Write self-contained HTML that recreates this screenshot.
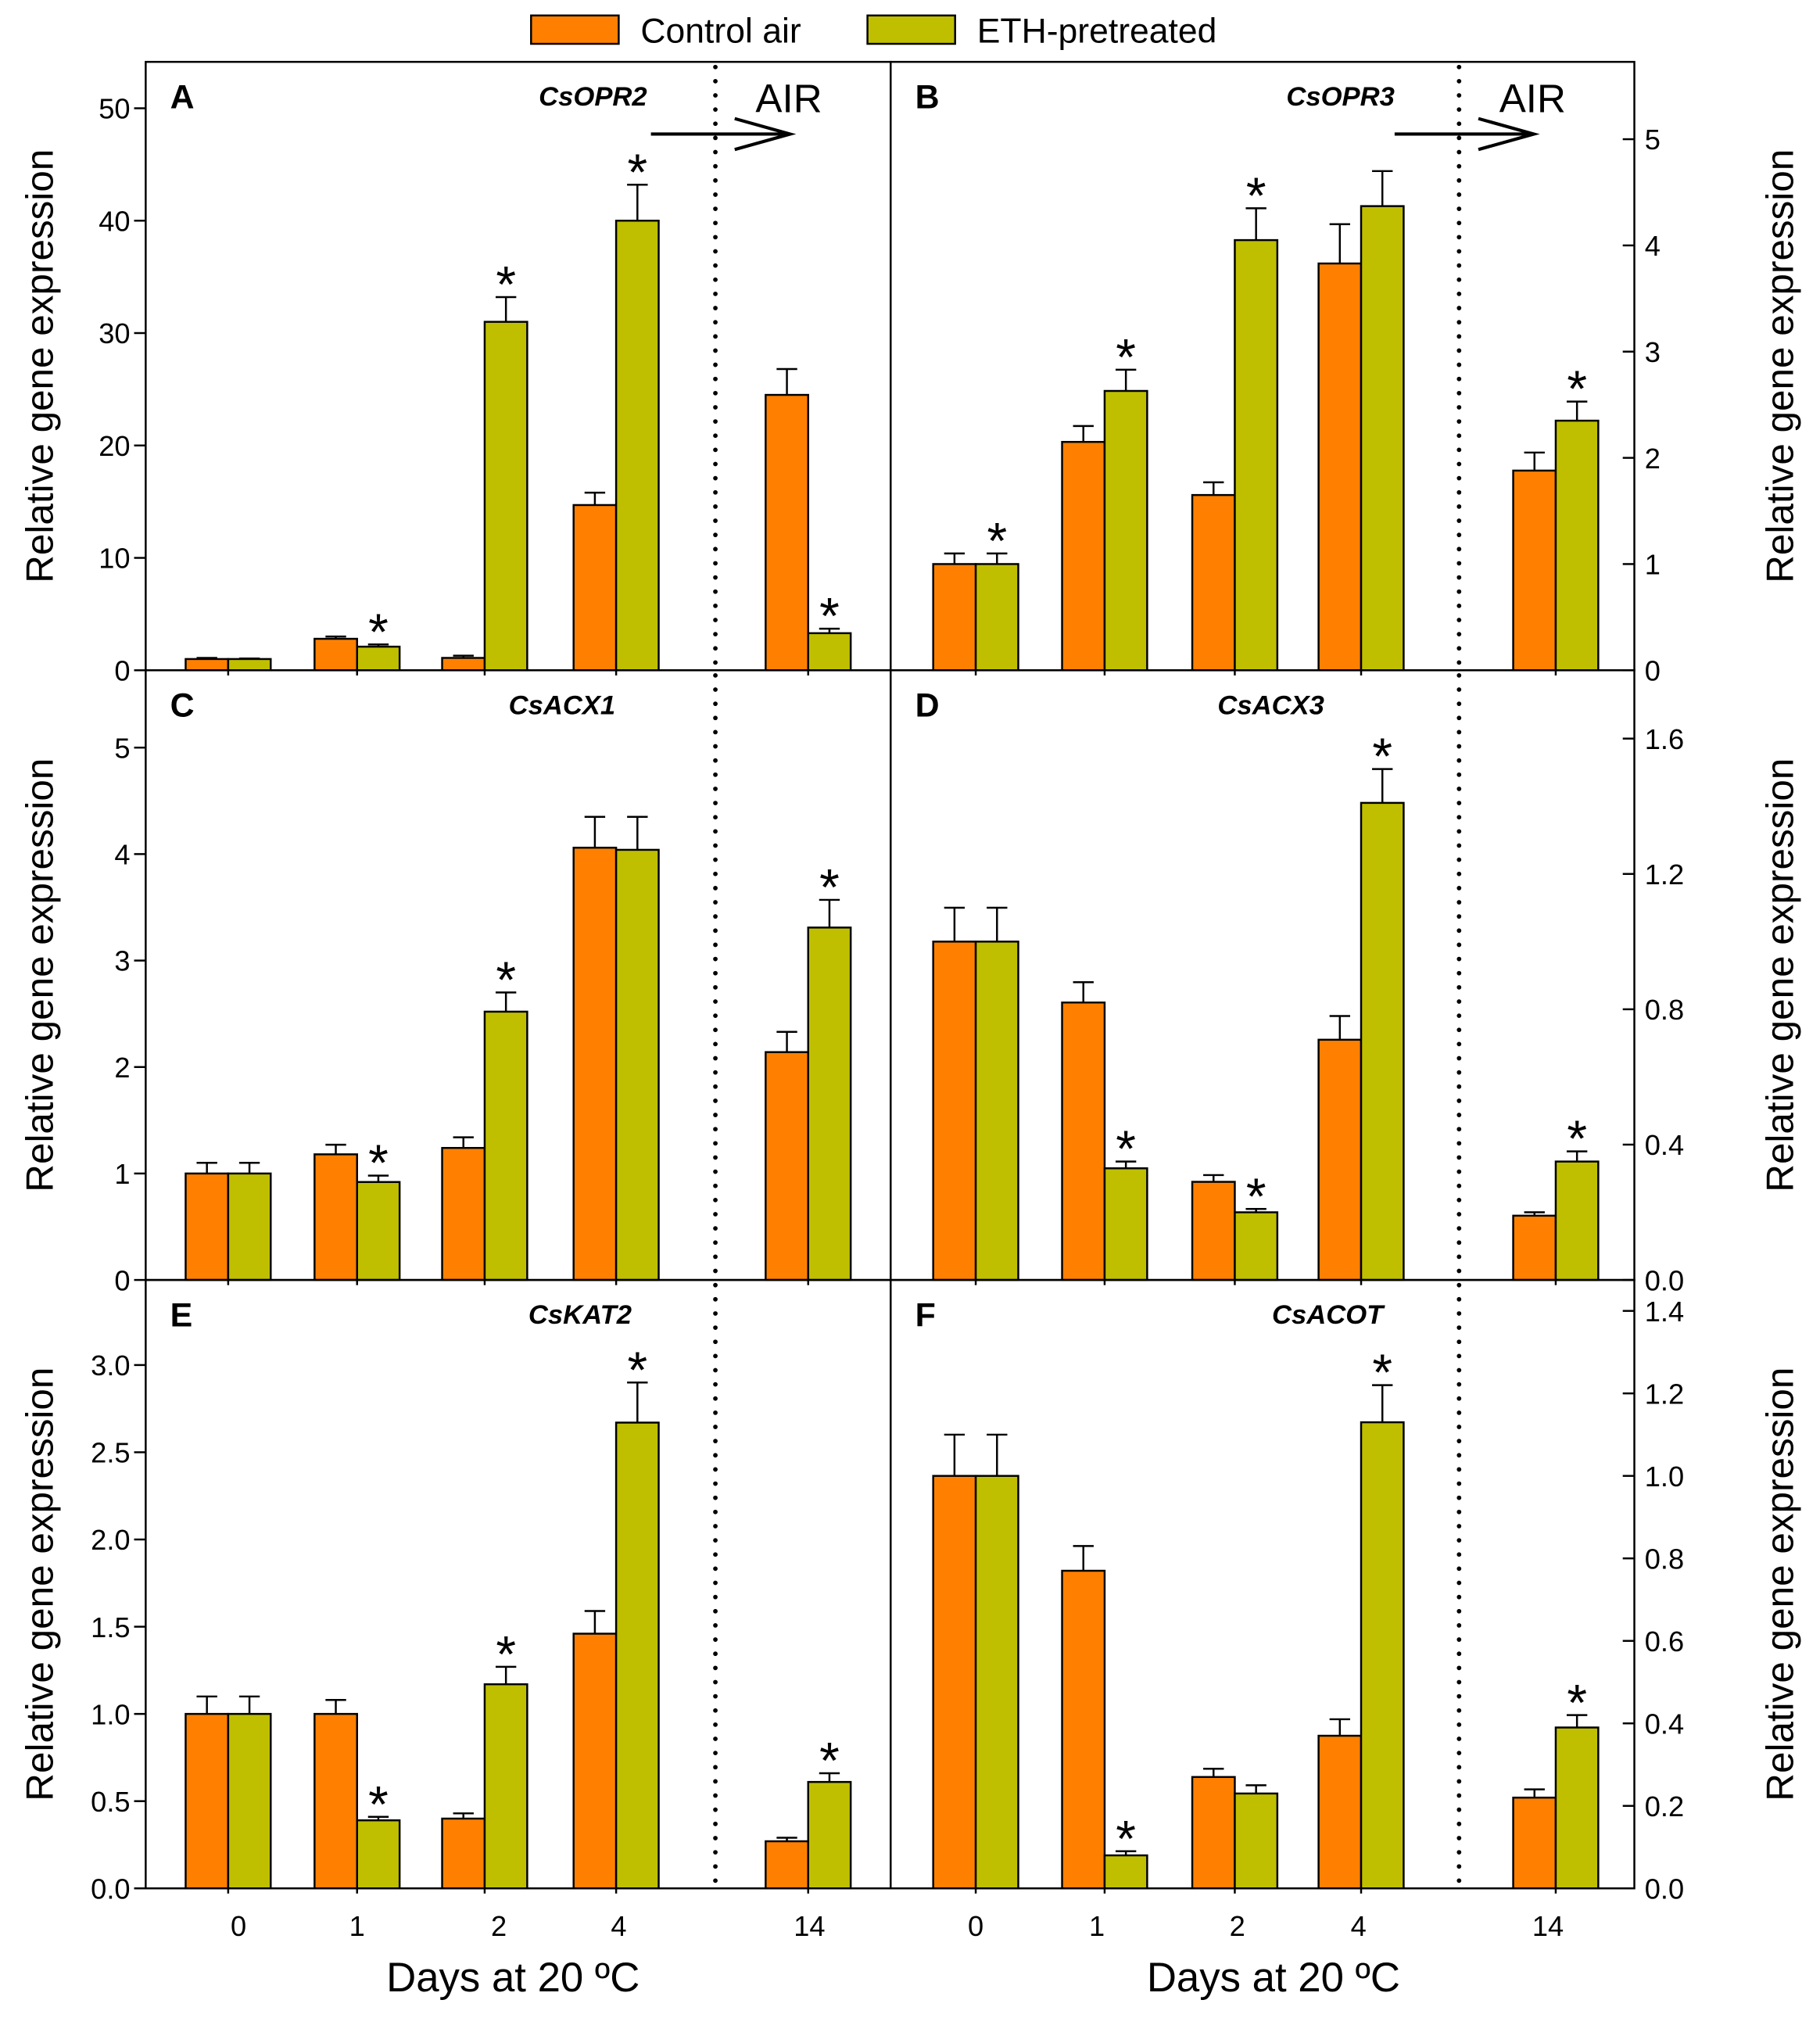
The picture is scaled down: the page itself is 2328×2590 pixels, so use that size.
<!DOCTYPE html>
<html><head><meta charset="utf-8"><style>
html,body{margin:0;padding:0;background:#fff}
svg{display:block;font-family:"Liberation Sans",Arial,sans-serif}
</style></head><body>
<svg id="chart" width="2328" height="2590" viewBox="0 0 1412 1571" xmlns="http://www.w3.org/2000/svg">
<g>
<rect x="412" y="12" width="68" height="22" fill="#ff8000" stroke="#000" stroke-width="1.5"/>
<text x="497" y="33" font-size="27">Control air</text>
<rect x="673" y="12" width="68" height="22" fill="#bfbf00" stroke="#000" stroke-width="1.5"/>
<text x="758" y="33" font-size="27">ETH-pretreated</text>
</g>
<text x="398" y="1545" font-size="32" text-anchor="middle">Days at 20 ºC</text>
<text x="988" y="1545" font-size="32" text-anchor="middle">Days at 20 ºC</text>
</svg>
<script>
const days = ['0','1','2','4','14'];
const aControl = [1, 2.8, 1.1, 14.7, 24.5];
const aControlErr = [1.1, 3.0, 1.3, 15.8, 26.8];
const aEth = [1, 2.1, 31, 40, 3.3];
const aEthErr = [1.05, 2.3, 33.2, 43.2, 3.7];
const aStars = [0,1,1,1,1];
const bControl = [1.0, 2.15, 1.65, 3.83, 1.88];
const bControlErr = [1.1, 2.3, 1.77, 4.2, 2.05];
const bEth = [1.0, 2.63, 4.05, 4.37, 2.35];
const bEthErr = [1.1, 2.83, 4.35, 4.7, 2.53];
const bStars = [1,1,1,0,1];
const cControl = [1, 1.18, 1.24, 4.06, 2.14];
const cControlErr = [1.1, 1.27, 1.34, 4.35, 2.33];
const cEth = [1, 0.92, 2.52, 4.04, 3.31];
const cEthErr = [1.1, 0.98, 2.7, 4.35, 3.57];
const cStars = [0,1,1,0,1];
const dControl = [1.0, 0.82, 0.29, 0.71, 0.19];
const dControlErr = [1.1, 0.88, 0.31, 0.78, 0.2];
const dEth = [1.0, 0.33, 0.2, 1.41, 0.35];
const dEthErr = [1.1, 0.35, 0.21, 1.51, 0.38];
const dStars = [0,1,1,1,1];
const eControl = [1, 1, 0.4, 1.46, 0.27];
const eControlErr = [1.1, 1.08, 0.43, 1.59, 0.29];
const eEth = [1, 0.39, 1.17, 2.67, 0.61];
const eEthErr = [1.1, 0.41, 1.27, 2.9, 0.66];
const eStars = [0,1,1,1,1];
const fControl = [1, 0.77, 0.27, 0.37, 0.22];
const fControlErr = [1.1, 0.83, 0.29, 0.41, 0.24];
const fEth = [1, 0.08, 0.23, 1.13, 0.39];
const fEthErr = [1.1, 0.09, 0.25, 1.22, 0.42];
const fStars = [0,1,0,1,1];
const ticksA = ['0','10','20','30','40','50'];
const ticksB = ['0','1','2','3','4','5'];
const ticksC = ['0','1','2','3','4','5'];
const ticksD = ['0.0','0.4','0.8','1.2','1.6'];
const ticksE = ['0.0','0.5','1.0','1.5','2.0','2.5','3.0'];
const ticksF = ['0.0','0.2','0.4','0.6','0.8','1.0','1.2','1.4'];

const NS='http://www.w3.org/2000/svg';
const svg=document.getElementById('chart');
function mk(tag,at,parent){const e=document.createElementNS(NS,tag);for(const k in at)e.setAttribute(k,at[k]);(parent||svg).appendChild(e);return e;}

const panels=[
 {id:'a',letter:'A',gene:'CsOPR2',side:'left',x0:113,x1:691,y0:48,y1:520,zero:520,top:84,tmax:50,ticks:ticksA,ctrl:aControl,ctrlE:aControlErr,eth:aEth,ethE:aEthErr,stars:aStars,air:true,gx:460},
 {id:'b',letter:'B',gene:'CsOPR3',side:'right',x0:691,x1:1268,y0:48,y1:520,zero:520,top:108,tmax:5,ticks:ticksB,ctrl:bControl,ctrlE:bControlErr,eth:bEth,ethE:bEthErr,stars:bStars,air:true,gx:1040},
 {id:'c',letter:'C',gene:'CsACX1',side:'left',x0:113,x1:691,y0:520,y1:993,zero:993,top:580,tmax:5,ticks:ticksC,ctrl:cControl,ctrlE:cControlErr,eth:cEth,ethE:cEthErr,stars:cStars,gx:436},
 {id:'d',letter:'D',gene:'CsACX3',side:'right',x0:691,x1:1268,y0:520,y1:993,zero:993,top:573,tmax:1.6,ticks:ticksD,ctrl:dControl,ctrlE:dControlErr,eth:dEth,ethE:dEthErr,stars:dStars,gx:986},
 {id:'e',letter:'E',gene:'CsKAT2',side:'left',x0:113,x1:691,y0:993,y1:1465,zero:1465,top:1059,tmax:3,ticks:ticksE,ctrl:eControl,ctrlE:eControlErr,eth:eEth,ethE:eEthErr,stars:eStars,gx:450},
 {id:'f',letter:'F',gene:'CsACOT',side:'right',x0:691,x1:1268,y0:993,y1:1465,zero:1465,top:1017,tmax:1.4,ticks:ticksF,ctrl:fControl,ctrlE:fControlErr,eth:fEth,ethE:fEthErr,stars:fStars,gx:1030}
];
const groupLeft=[177,277,376,478,627], groupRight=[757,857,958,1056,1207];
const labLeft=[185,277,387,480,628], labRight=[757,851,960,1054,1201];
const BW=33;

panels.forEach(p=>{
 const g=mk('g',{});
 
 
 const y=v=>p.zero-(v/p.tmax)*(p.zero-p.top);
 const gc=p.side==='left'?groupLeft:groupRight;
 const dx=p.side==='left'?555:1132;
 const dl=mk('line',{x1:dx,x2:dx,y1:p.y0+4,y2:p.y1,stroke:'#000','stroke-width':3.5,'stroke-dasharray':'0 11','stroke-linecap':'round'},g);
 
 
 days.forEach((d,i)=>{
  [[p.ctrl,p.ctrlE,'#ff8000',-BW,'control'],[p.eth,p.ethE,'#bfbf00',0,'eth']].forEach(s=>{
   const v=s[0][i], e=s[1][i], bx=gc[i]+s[3];
   const ex=bx+BW/2;
   const el=mk('line',{x1:ex,x2:ex,y1:y(v),y2:y(e),stroke:'#000','stroke-width':1.5},g);
   
   
   const ec=mk('line',{x1:ex-8,x2:ex+8,y1:y(e),y2:y(e),stroke:'#000','stroke-width':1.5},g);
   
   
   const r=mk('rect',{x:bx,y:y(v),width:BW,height:p.zero-y(v),fill:s[2],stroke:'#000','stroke-width':1.5},g);
   
   
  });
  if(p.stars[i]){
   const t=mk('text',{x:gc[i]+BW/2,y:y(p.ethE[i])+4,'font-size':40,'text-anchor':'middle'},g);
   t.textContent='*';
   
   
  }
  const tk=mk('line',{x1:gc[i],x2:gc[i],y1:p.y1,y2:p.y1+4,stroke:'#000','stroke-width':1.5},g);
  
  
  if(p.id==='e'||p.id==='f'){
   const lx=(p.side==='left'?labLeft:labRight)[i];
   const lt=mk('text',{x:lx,y:1502,'font-size':22,'text-anchor':'middle'},g);
   lt.textContent=d;
   
   
  }
 });
 const ax=p.side==='left'?p.x0:p.x1;
 p.ticks.forEach((lab,k)=>{
  const v=parseFloat(lab), ty=y(v);
  const tl=mk('line',{x1:ax-9,x2:ax,y1:ty,y2:ty,stroke:'#000','stroke-width':1.5},g);
  
  
  const tt=mk('text',{x:p.side==='left'?ax-12:ax+8,y:ty+8,'font-size':22,'text-anchor':p.side==='left'?'end':'start'},g);
  tt.textContent=lab;
  
  
 });
 const fr=mk('rect',{x:p.x0,y:p.y0,width:p.x1-p.x0,height:p.y1-p.y0,fill:'none',stroke:'#000','stroke-width':1.5},g);
 
 
 const L=mk('text',{x:p.x0+19,y:p.y0+36,'font-size':26,'font-weight':'bold'},g);
 L.textContent=p.letter;
 
 
 const G=mk('text',{x:p.gx,y:p.y0+34,'font-size':21,'font-weight':'bold','font-style':'italic','text-anchor':'middle'},g);
 G.textContent=p.gene;
 
 
 const my=(p.y0+p.y1)/2, tx=p.side==='left'?41:1391;
 const Y=mk('text',{x:tx,y:my,'font-size':30,'text-anchor':'middle',transform:`rotate(-90 ${tx} ${my})`},g);
 Y.textContent='Relative gene expression';
 
 
 if(p.air){
  const ox=p.side==='left'?0:577;
  const A=mk('text',{x:612+ox,y:87,'font-size':31,'text-anchor':'middle'},g);
  A.textContent='AIR';
  
  
  const ar=mk('path',{d:`M${505+ox},104 L${613+ox},104 M${570+ox},92 L${613+ox},104 L${570+ox},116`,fill:'none',stroke:'#000','stroke-width':2.5},g);
  
  
 }
});
</script>
</body></html>
